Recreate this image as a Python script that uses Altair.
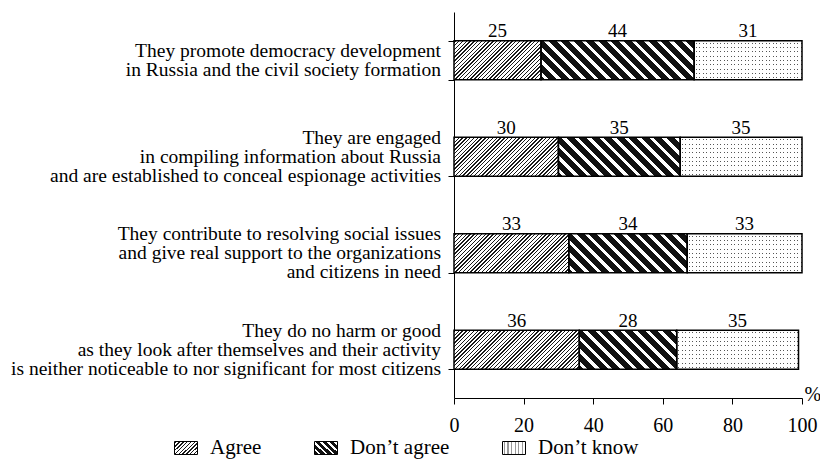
import json
import altair as alt
import pandas as pd

statements = [
    "They promote democracy development|in Russia and the civil society formation",
    "They are engaged|in compiling information about Russia|and are established to conceal espionage activities",
    "They contribute to resolving social issues|and give real support to the organizations|and citizens in need",
    "They do no harm or good|as they look after themselves and their activity|is neither noticeable to nor significant for most citizens",
]
responses = ["Agree", "Don’t agree", "Don’t know"]
agree = [25, 30, 33, 36]
dont_agree = [44, 35, 34, 28]
dont_know = [31, 35, 33, 35]
x_ticks = [0, 20, 40, 60, 80, 100]

series = [agree, dont_agree, dont_know]
rows = []
for i, s in enumerate(statements):
    for j, r in enumerate(responses):
        rows.append({"statement": s, "row": i, "response": r, "rid": j, "value": series[j][i]})
df = pd.DataFrame(rows)

FONT = "Liberation Serif"
W, H = 348, 386
P_IN, P_OUT = 0.596, 0.298
STEP = H / (len(statements) - P_IN + 2 * P_OUT)
BAR_H = STEP * (1 - P_IN)
PX = W / 100.0
LINE_H = 19


def stops(on, off, period, width, phase=0.0):
    out = [{"offset": 0, "color": off}]
    k = 0
    while True:
        s = phase + k * period
        if s >= 1:
            break
        e = min(s + width, 1.0)
        s5, e5 = round(s, 5), round(e, 5)
        out += [
            {"offset": s5, "color": off},
            {"offset": s5, "color": on},
            {"offset": e5, "color": on},
            {"offset": e5, "color": off},
        ]
        k += 1
    out.append({"offset": 1, "color": off})
    return out


def hatch_up(w, h, period=3.8, lw=1.4):
    L = w + h
    c = L / (w * w + h * h)
    return {"gradient": "linear", "x1": 0, "y1": 0, "x2": round(c * w, 6), "y2": round(c * h, 6),
            "stops": stops("#1a1a1a", "white", period / L, lw / L, 1.0 / L)}


def hatch_down(w, h, period=12.5, lw=4.6):
    L = w + h
    c = L / (w * w + h * h)
    return {"gradient": "linear", "x1": 0, "y1": 1, "x2": round(c * w, 6), "y2": round(1 - c * h, 6),
            "stops": stops("white", "#111111", period / L, lw / L, 4.0 / L)}


def vlines(w, h, color="#555555"):
    return {"gradient": "linear", "x1": 0, "y1": 0, "x2": 1, "y2": 0,
            "stops": stops(color, "white", 3.5 / w, 1.0 / w, 1.5 / w)}


def hmask(w, h):
    return {"gradient": "linear", "x1": 0, "y1": 0, "x2": 0.000001, "y2": 1,
            "stops": stops("rgba(255,255,255,0)", "white", 4.33 / h, 1.0 / h, 2.0 / h)}


def fill_for(rid, fn):
    conds = []
    for i in range(len(statements)):
        w = series[rid][i] * PX
        conds.append({"test": f"datum.row === {i}", "value": fn(w, BAR_H)})
    return alt.FillValue(value="white", condition=conds)


x_axis = alt.Axis(
    values=x_ticks, title="%", titleX=W + 2, titleY=-4, titleAlign="left",
    titleBaseline="middle", titleFont=FONT, titleFontSize=20, titleFontWeight="normal",
    titleColor="black", labelFont=FONT, labelFontSize=20, labelColor="black",
    labelPadding=11, tickSize=6, tickColor="black", domainColor="black", grid=False,
    labelFlush=False,
)
y_axis = alt.Axis(
    labels=False, tickSize=6, tickBand="extent",
    tickColor="black", domainColor="black", grid=False, title=None,
)

X = alt.X("x0:Q", scale=alt.Scale(domain=[0, 100], nice=False), axis=x_axis, title="%")
X2 = alt.X2("x1:Q")
Y = alt.Y("statement:N", sort=statements,
          scale=alt.Scale(paddingInner=P_IN, paddingOuter=P_OUT), axis=y_axis, title=None)

agree_layer = alt.Chart().mark_bar().encode(
    x=X, x2=X2, y=Y, fill=fill_for(0, hatch_up)).transform_filter("datum.rid === 0")
dis_layer = alt.Chart().mark_bar().encode(
    x=X, x2=X2, y=Y, fill=fill_for(1, hatch_down)).transform_filter("datum.rid === 1")
dk_layer1 = alt.Chart().mark_bar().encode(
    x=X, x2=X2, y=Y, fill=fill_for(2, vlines)).transform_filter("datum.rid === 2")
dk_layer2 = alt.Chart().mark_bar().encode(
    x=X, x2=X2, y=Y, fill=fill_for(2, hmask)).transform_filter("datum.rid === 2")

outline = alt.Chart().mark_bar(filled=False, stroke="black", strokeWidth=1.5).encode(
    x=X, x2=X2, y=Y,
)

labels = alt.Chart().mark_text(font=FONT, fontSize=19, dy=-29, color="black").encode(
    x=alt.X("mid:Q", scale=alt.Scale(domain=[0, 100], nice=False), axis=x_axis, title="%"),
    y=Y,
    text=alt.Text("value:Q"),
)

# category labels (multi-line, centred on each band)
cat_labels = alt.Chart().mark_text(
    font=FONT, fontSize=19.5, color="black", align="right", baseline="middle",
    lineHeight=LINE_H, dx=-13, dy={"expr": f"-(datum.nlines - 1) * {LINE_H / 2}"},
).encode(
    x=alt.X(datum=0, scale=alt.Scale(domain=[0, 100], nice=False), axis=x_axis, title="%"),
    y=Y,
    text=alt.Text("lines:N"),
).transform_filter("datum.rid === 0").transform_calculate(
    lines="split(datum.statement, '|')"
).transform_calculate(
    nlines="length(datum.lines)"
)

# legend: fill scale whose range holds the pattern gradients (legend-sized)
SW, SH = 23, 13
legend_fills = [hatch_up(SW, SH), hatch_down(SW, SH, 7, 2.4), vlines(SW, SH, "#999999")]
legend_range = [{"expr": json.dumps(g)} for g in legend_fills]

legend_layer = alt.Chart().mark_bar(stroke="black", strokeWidth=1).encode(
    x=X, x2=X2, y=Y,
    fill=alt.Fill(
        "response:N",
        scale=alt.Scale(domain=responses, range=legend_range),
        legend=alt.Legend(
            orient="none", legendX=-280, legendY=424, direction="horizontal", title=None,
            symbolType="M-1,-0.565H1V0.565H-1Z", symbolSize=529, symbolStrokeWidth=1,
            symbolStrokeColor="black",
            labelFont=FONT, labelFontSize=21, labelColor="black", labelOffset=12,
            columnPadding=50, gridAlign="none",
        ),
    ),
).transform_filter("datum.rid < 0")

chart = alt.layer(
    agree_layer, dis_layer, dk_layer1, dk_layer2, outline, labels, cat_labels, legend_layer,
    data=df,
).transform_stack(
    stack="value", groupby=["row"], as_=["x0", "x1"],
    sort=[alt.SortField(field="rid", order="ascending")],
).transform_calculate(
    mid="(datum.x0 + datum.x1) / 2"
).properties(
    width=W, height=H,
    padding={"left": 446, "top": 4, "right": 18, "bottom": 64},
    autosize=alt.AutoSizeParams(type="none"),
).configure_view(stroke=None)

chart.save("out.html", embed_options={"renderer": "svg", "actions": False})
